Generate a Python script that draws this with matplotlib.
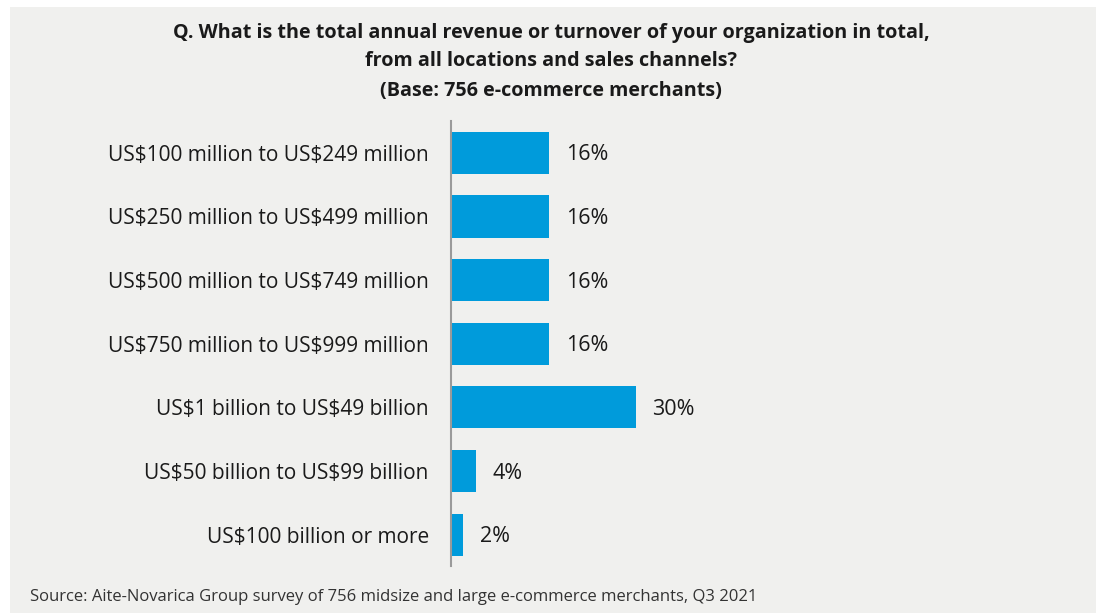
import matplotlib
matplotlib.use("Agg")
import matplotlib.pyplot as plt
from matplotlib.patches import Rectangle
from matplotlib import transforms

plt.rcParams["text.parse_math"] = False

categories = [
    "US$100 million to US$249 million",
    "US$250 million to US$499 million",
    "US$500 million to US$749 million",
    "US$750 million to US$999 million",
    "US$1 billion to US$49 billion",
    "US$50 billion to US$99 billion",
    "US$100 billion or more",
]
values = [16, 16, 16, 16, 30, 4, 2]

title_lines = [
    "Q. What is the total annual revenue or turnover of your organization in total,",
    "from all locations and sales channels?",
    "(Base: 756 e-commerce merchants)",
]
source = "Source: Aite-Novarica Group survey of 756 midsize and large e-commerce merchants, Q3 2021"

FONT = ["Open Sans", "DejaVu Sans"]
BAR = "#009bdb"
BG = "#f0f0ee"

W, H = 1096, 614
fig = plt.figure(figsize=(W / 100, H / 100), dpi=100)
fig.patch.set_facecolor("white")

# grey panel behind the whole chart
fig.patches.append(Rectangle((10 / W, 1 - 613 / H), (W - 10) / W, (613 - 7) / H,
                             transform=fig.transFigure, facecolor=BG,
                             edgecolor="none", zorder=-10))

left, right = 451, 451 + 615
top, bottom = 121, 566
ax = fig.add_axes([left / W, 1 - bottom / H, (right - left) / W, (bottom - top) / H])
ax.set_facecolor("none")
ax.set_zorder(1)

y = list(range(len(categories)))
ax.barh(y, values, height=0.66, color=BAR, edgecolor="none", zorder=2)
ax.set_xlim(0, 100)
ax.set_ylim(6.49, -0.5)

for s in ["top", "right", "bottom"]:
    ax.spines[s].set_visible(False)
ax.spines["left"].set_color("#9a9a9a")
ax.spines["left"].set_linewidth(1.5)
ax.spines["left"].set_zorder(3)
ax.set_xticks([])
ax.set_yticks(y)
ax.set_yticklabels(categories, fontsize=15, color="#1a1a1a", fontfamily=FONT)
ax.tick_params(axis="y", length=0, pad=16)

offset = transforms.offset_copy(ax.transData, fig=fig, x=17, y=-2, units="dots")
for yi, v in zip(y, values):
    ax.text(v, yi, f"{v}%", transform=offset, ha="left", va="center",
            fontsize=15.5, color="#1a1a1a", fontfamily=FONT)

for line, ypx in zip(title_lines, [33, 61, 91]):
    fig.text(551 / W, 1 - ypx / H, line, ha="center", va="center",
             fontsize=14.2, fontweight="bold", color="#1a1a1a", fontfamily=FONT)

fig.text(30 / W, 1 - 597 / H, source, ha="left", va="center",
         fontsize=12, color="#333333", fontfamily=FONT)

fig.savefig("out.png", dpi=100, facecolor=fig.get_facecolor())
